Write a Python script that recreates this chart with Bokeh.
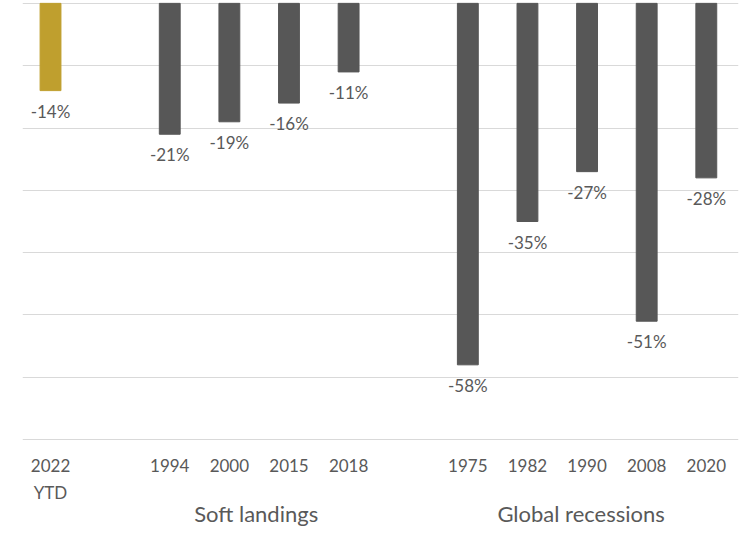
from bokeh.plotting import figure
from bokeh.models import ColumnDataSource, FixedTicker, LinearAxis, Range1d
from bokeh.core.properties import value
from bokeh.embed import file_html
from bokeh.resources import INLINE

# Data
categories = ["2022\nYTD", "1994", "2000", "2015", "2018", "1975", "1982", "1990", "2008", "2020"]
slots = [0, 2, 3, 4, 5, 7, 8, 9, 10, 11]
values = [-14, -21, -19, -16, -11, -58, -35, -27, -51, -28]
colors = ["#BF9F2E"] + ["#575757"] * 9
groups = ["Soft landings", "Global recessions"]
group_pos = [3.45, 8.9]
grid_ticks = [0, -10, -20, -30, -40, -50, -60, -70]

FONT = "Lato"
TXT = "#595959"

src = ColumnDataSource(dict(x=slots, top=[0] * len(values), bottom=values, color=colors,
                            label=[f"{v}%" for v in values]))

p = figure(width=750, height=536, output_backend="svg", toolbar_location=None,
           x_range=Range1d(-0.47, 11.54), y_range=Range1d(-70.3, 0.3),
           min_border_left=22, min_border_right=12, min_border_top=1, min_border_bottom=95)
p.outline_line_color = None
p.background_fill_color = "white"

p.ygrid.ticker = FixedTicker(ticks=grid_ticks)
p.ygrid.grid_line_color = "#D9D9D9"
p.ygrid.grid_line_width = 1
p.xgrid.visible = False
p.yaxis.visible = False

p.vbar(x="x", top="top", bottom="bottom", width=0.35, color="color", source=src)
p.text(x="x", y="bottom", text="label", source=src, text_align="center", text_baseline="top",
       y_offset=10, text_font=value(FONT), text_font_size="17px", text_color=TXT)

ax = p.xaxis[0]
ax.ticker = FixedTicker(ticks=slots)
ax.major_label_overrides = {s: c for s, c in zip(slots, categories)}
ax.axis_line_color = None
ax.major_tick_line_color = None
ax.minor_tick_line_color = None
ax.major_tick_in = 0
ax.major_tick_out = 0
ax.major_label_standoff = 13
ax.major_label_text_font = FONT
ax.major_label_text_font_size = "17px"
ax.major_label_text_color = TXT
ax.major_label_text_line_height = 1.3

ax2 = LinearAxis(ticker=FixedTicker(ticks=group_pos),
                 major_label_overrides={g: t for g, t in zip(group_pos, groups)})
ax2.axis_line_color = None
ax2.major_tick_line_color = None
ax2.minor_tick_line_color = None
ax2.major_tick_in = 0
ax2.major_tick_out = 0
ax2.major_label_standoff = -6
ax2.major_label_text_font = FONT
ax2.major_label_text_font_size = "22px"
ax2.major_label_text_color = TXT
p.add_layout(ax2, "below")

open("out.html", "w").write(file_html(p, INLINE))
